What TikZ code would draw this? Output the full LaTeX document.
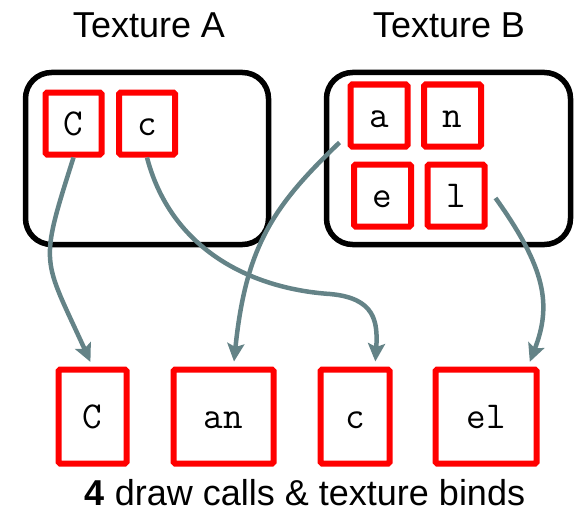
\documentclass[tikz,border=0pt]{standalone}
\usepackage{fontspec}
\setmainfont{Liberation Sans}
\usetikzlibrary{arrows.meta}
\definecolor{linkgray}{RGB}{100,131,135}
\tikzset{
  atlas/.style = {draw=black, line width=5.5pt, rounded corners=26pt,
                  minimum width=243pt, minimum height=172pt},
  tile/.style = {draw=red, line width=6pt, rounded corners=1.5pt,
                 minimum width=#1, minimum height=62pt, inner sep=0pt,
                 font=\fontsize{38}{42}\selectfont\ttfamily,
                 text height=23pt, text depth=0pt},
  tile/.default = 57pt,
  batch/.style = {tile=#1, minimum height=94pt},
  link/.style = {draw=linkgray, line width=4.5pt, shorten >=5pt,
                 -{Stealth[length=18pt, width=17pt, inset=3.5pt]}},
  title/.style = {anchor=base, inner sep=0pt,
                  font=\fontsize{36}{40}\selectfont}
}

\begin{document}
\begin{tikzpicture}[x=1pt, y=1pt]
	\useasboundingbox (0,0) rectangle (581,-511);

	% Textures
	\node[atlas] (texA) at (147,-158.5) {};
	\node[atlas, minimum width=244pt] (texB) at (448.5,-158.5) {};
	\node[title] (nameA) at (149,-38) {Texture A};
	\node[title] (nameB) at (449,-38) {Texture B};

	% Glyphs in texture A
	\node[tile=56pt] (gC) at (73.5,-123.5) {C};
	\node[tile=56pt] (gc) at (147,-123.5) {c};

	% Glyphs in texture B
	\node[tile] (ga) at (379,-115.5) {a};
	\node[tile] (gn) at (452.5,-115.5) {n};
	\node[tile] (ge) at (382.5,-195.5) {e};
	\node[tile] (gl) at (456,-195.5) {l};

	% Draw calls
	\node[batch=68pt] (dC) at (92.5,-416.5) {C};
	\node[batch=100pt] (dan) at (223.5,-416.5) {an};
	\node[batch=69pt] (dc) at (355,-416.5) {c};
	\node[batch=101pt] (del) at (486,-416.5) {el};
	\node[title] (calls) at (305,-505) {\textbf{4} draw calls \& texture binds};

	% Links
	\coordinate (bend) at (330,-294);
	\draw[link] (gC.south) .. controls +(-35,-110) and +(-50,110) .. (dC.north);
	\draw[link] (gc.south) .. controls +(25,-95) and +(-75,5) .. (bend)
	            .. controls +(45,-4) and +(3,45) .. ([xshift=20pt]dc.north);
	\draw[link] ([shift={(-8,-27)}]ga.west) .. controls +(-65,-62.5) and +(12.5,122) .. ([xshift=10pt]dan.north);
	\draw[link] ([shift={(8,-2.5)}]gl.east) .. controls +(50,-70) and +(24,62) .. ([xshift=42pt]del.north);
\end{tikzpicture}
\end{document}
